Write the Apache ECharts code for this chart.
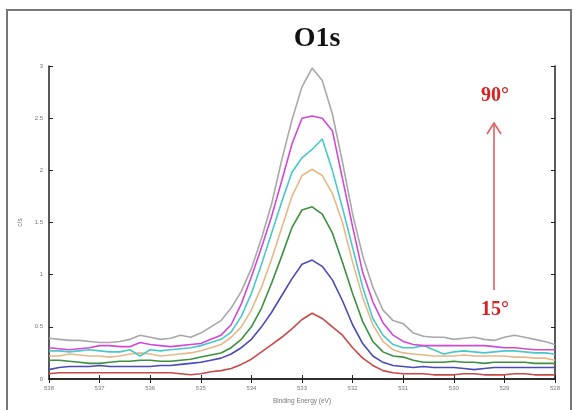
<!DOCTYPE html>
<html><head><meta charset="utf-8">
<script src="https://cdn.jsdelivr.net/npm/echarts@6/dist/echarts.min.js"></script>
<style>html,body{margin:0;padding:0;background:#fff}#c{width:579px;height:410px}</style>
</head><body><div id="c"></div>
<script>
// Binding energies 538 -> 528, step 0.2 eV
const energies = [538.0,537.8,537.6,537.4,537.2,537.0,536.8,536.6,536.4,536.2,536.0,535.8,535.6,535.4,535.2,535.0,534.8,534.6,534.4,534.2,534.0,533.8,533.6,533.4,533.2,533.0,532.8,532.6,532.4,532.2,532.0,531.8,531.6,531.4,531.2,531.0,530.8,530.6,530.4,530.2,530.0,529.8,529.6,529.4,529.2,529.0,528.8,528.6,528.4,528.2,528.0];
const xTicks = [538,537,536,535,534,533,532,531,530,529,528];
const yTicks = [0,0.5,1,1.5,2,2.5,3];
const seriesNames = ['15°','a2','a3','a4','a5','a6','90°'];
const red = [0.05,0.06,0.06,0.06,0.06,0.06,0.06,0.06,0.06,0.06,0.06,0.06,0.06,0.05,0.04,0.05,0.07,0.08,0.10,0.14,0.19,0.26,0.33,0.40,0.48,0.57,0.63,0.58,0.50,0.42,0.30,0.20,0.13,0.08,0.06,0.05,0.05,0.05,0.04,0.04,0.04,0.05,0.05,0.04,0.04,0.04,0.05,0.05,0.04,0.04,0.04];
const blue = [0.09,0.11,0.12,0.12,0.12,0.13,0.12,0.12,0.12,0.12,0.12,0.13,0.13,0.14,0.15,0.16,0.18,0.20,0.24,0.30,0.38,0.50,0.64,0.80,0.96,1.10,1.14,1.08,0.95,0.75,0.52,0.34,0.22,0.16,0.13,0.12,0.11,0.12,0.11,0.11,0.11,0.10,0.09,0.10,0.11,0.11,0.11,0.11,0.11,0.11,0.11];
const green = [0.18,0.18,0.17,0.16,0.15,0.15,0.16,0.17,0.17,0.18,0.18,0.17,0.17,0.18,0.19,0.21,0.23,0.25,0.30,0.38,0.50,0.68,0.92,1.18,1.45,1.62,1.65,1.58,1.40,1.12,0.82,0.55,0.36,0.26,0.22,0.21,0.18,0.16,0.16,0.16,0.17,0.16,0.16,0.15,0.16,0.16,0.16,0.16,0.15,0.15,0.15];
const tan = [0.22,0.22,0.24,0.23,0.22,0.22,0.21,0.22,0.24,0.25,0.24,0.22,0.23,0.24,0.25,0.27,0.30,0.33,0.40,0.50,0.66,0.88,1.15,1.45,1.75,1.95,2.01,1.95,1.78,1.50,1.12,0.78,0.52,0.36,0.28,0.25,0.24,0.23,0.22,0.22,0.22,0.23,0.22,0.22,0.22,0.22,0.21,0.21,0.20,0.20,0.18];
const cyan = [0.27,0.27,0.26,0.27,0.28,0.27,0.26,0.26,0.28,0.22,0.28,0.27,0.28,0.29,0.30,0.32,0.35,0.38,0.45,0.60,0.82,1.10,1.40,1.70,1.98,2.12,2.20,2.30,2.00,1.64,1.26,0.88,0.58,0.42,0.33,0.30,0.30,0.32,0.28,0.24,0.26,0.27,0.26,0.25,0.26,0.27,0.27,0.26,0.25,0.25,0.24];
const magenta = [0.30,0.29,0.28,0.29,0.30,0.32,0.32,0.31,0.31,0.35,0.33,0.32,0.31,0.32,0.33,0.34,0.38,0.42,0.52,0.72,0.98,1.26,1.56,1.90,2.25,2.50,2.52,2.50,2.38,1.92,1.46,1.02,0.74,0.54,0.42,0.36,0.33,0.32,0.32,0.32,0.32,0.32,0.32,0.32,0.31,0.30,0.30,0.29,0.28,0.28,0.28];
const gray = [0.39,0.38,0.37,0.37,0.36,0.35,0.35,0.36,0.38,0.42,0.40,0.38,0.39,0.42,0.40,0.44,0.50,0.56,0.68,0.84,1.06,1.35,1.68,2.10,2.48,2.80,2.98,2.86,2.54,2.08,1.58,1.18,0.88,0.66,0.56,0.53,0.44,0.41,0.40,0.40,0.38,0.39,0.40,0.38,0.37,0.40,0.42,0.40,0.38,0.36,0.33];
const allSeries = [red, blue, green, tan, cyan, magenta, gray];
const colors = ['#c84848','#4a4ab8','#3c9040','#e6b888','#48c8c8','#d048d8','#a8a8a8'];

const chart = echarts.init(document.getElementById('c'), null, {renderer:'canvas'});
const tickLabel = {color:'#777', fontSize:6, fontFamily:'Liberation Sans'};
const option = {
  animation:false,
  backgroundColor:'#fff',
  title:{text:'O1s', left:312, top:20, textAlign:'center',
    textStyle:{fontFamily:'Liberation Serif', fontWeight:'bold', fontSize:28, color:'#111'}},
  grid:{left:49, right:24, top:66, bottom:30},
  xAxis:[{type:'value', min:528, max:538, interval:1, inverse:true, position:'bottom',
    axisLine:{show:true, lineStyle:{color:'#222', width:1.5}},
    axisTick:{show:true, inside:true, length:4, lineStyle:{color:'#222'}},
    axisLabel:Object.assign({margin:6, formatter:v=>xTicks.includes(v)?String(v):''}, tickLabel),
    splitLine:{show:false},
    name:'Binding Energy (eV)', nameLocation:'middle', nameGap:19,
    nameTextStyle:{color:'#777', fontSize:6.5, fontFamily:'Liberation Sans'}},
   {type:'value', min:528, max:538, interval:1, inverse:true, position:'top',
    axisLine:{show:true, lineStyle:{color:'#222', width:1.5}},
    axisTick:{show:true, inside:true, length:4, lineStyle:{color:'#222'}},
    axisLabel:{show:false}, splitLine:{show:false}}],
  yAxis:[{type:'value', min:0, max:3, interval:0.5, position:'left',
    axisLine:{show:true, lineStyle:{color:'#222', width:1.5}},
    axisTick:{show:true, inside:true, length:4, lineStyle:{color:'#222'}},
    axisLabel:Object.assign({margin:6, formatter:v=>yTicks.includes(v)?String(v):''}, tickLabel),
    splitLine:{show:false},
    name:'c/s', nameLocation:'middle', nameGap:20, nameRotate:90,
    nameTextStyle:{color:'#777', fontSize:6.5, fontFamily:'Liberation Sans'}},
   {type:'value', min:0, max:3, interval:0.5, position:'right',
    axisLine:{show:true, lineStyle:{color:'#222', width:1.5}},
    axisTick:{show:true, inside:true, length:4, lineStyle:{color:'#222'}},
    axisLabel:{show:false}, splitLine:{show:false}}],
  series: allSeries.map((d,i)=>({
    type:'line', name:seriesNames[i], xAxisIndex:0, yAxisIndex:0,
    data: energies.map((e,j)=>[e,d[j]]),
    showSymbol:false, symbol:'none', smooth:false,
    lineStyle:{color:colors[i], width:1.6}, z:2+i
  })),
  graphic:[
    {type:'rect', shape:{x:7, y:10, width:564, height:420}, style:{fill:'none', stroke:'#777', lineWidth:2}, silent:true},
    {type:'text', left:481, top:86, style:{text:'90°', fill:'#d82020', font:'bold 20px "Liberation Serif"'}},
    {type:'text', left:481, top:300, style:{text:'15°', fill:'#d82020', font:'bold 20px "Liberation Serif"'}},
    {type:'line', shape:{x1:494, y1:290, x2:494, y2:124}, style:{stroke:'#e06060', lineWidth:1.6}},
    {type:'polyline', shape:{points:[[487,134],[494,123],[501,134]]}, style:{stroke:'#e06060', lineWidth:1.6, fill:'none'}}
  ]
};
chart.setOption(option);
</script></body></html>
